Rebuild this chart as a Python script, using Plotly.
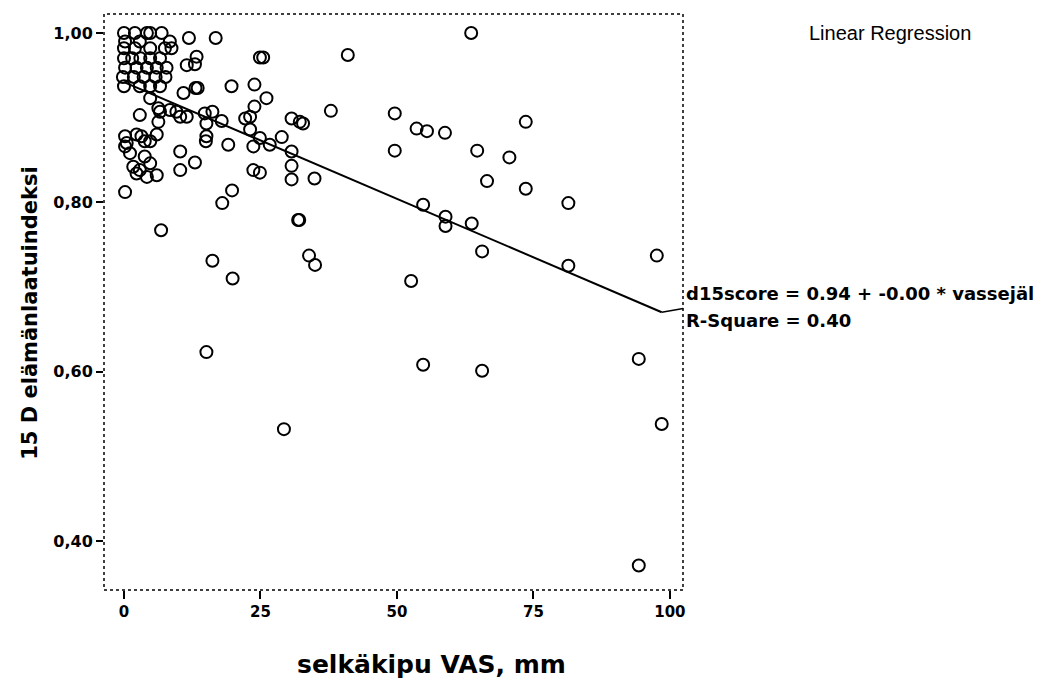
import plotly.graph_objects as go

# --- data (VAS back pain, mm  vs  15D index) ---
vas = [
    # sparse right part
    63.6, 41.0, 49.6, 53.6, 55.5, 58.8, 73.6, 49.6, 64.7, 70.6, 66.5, 73.6, 81.4, 54.8,
    58.9, 58.9, 63.7, 65.6, 81.4, 97.6, 52.6, 54.8, 65.6, 94.3, 98.5, 94.3,
    # middle
    18.0, 32.1, 6.8, 16.2, 33.9, 35.0, 19.9, 15.1, 29.3, 19.8,
    16.8, 24.9, 25.5, 19.7, 23.9, 26.1, 23.9, 37.9, 16.2, 17.9, 22.2, 23.1, 30.7, 32.2,
    32.8, 23.1, 19.1, 23.7, 24.9, 26.7, 28.9, 30.7, 30.7, 30.7, 34.9, 23.7, 24.9, 31.9,
    # left lower cluster
    0.2, 2.9, 6.3, 6.6, 10.3, 11.5, 9.6, 14.8, 15.1, 15.1, 15.0, 0.2, 0.5, 0.2, 1.1,
    2.3, 3.2, 3.8, 4.8, 6.0, 10.3, 10.3, 13.0, 1.7, 2.9, 2.3, 3.8, 4.8, 4.2, 6.0,
    # left upper cluster
    0.0, 2.0, 4.2, 4.8, 6.9, 11.9, 0.2, 2.9, 8.4, 0.0, 2.0, 4.8, 7.5, 8.7,
    13.3, 11.5, 13.0, 0.0, 1.5, 3.0, 4.8, 6.6, 0.2, 2.3, 4.2, 6.0, 7.8,
    -0.2, 1.8, 3.6, 5.8, 7.6, 0.0, 2.9, 4.8, 6.6, 13.1, 13.5, 10.9, 4.8, 6.3, 8.4,
]
score = [
    1.000, 0.974, 0.905, 0.887, 0.884, 0.882, 0.895, 0.861, 0.861, 0.853, 0.825, 0.816, 0.799, 0.797,
    0.783, 0.772, 0.775, 0.742, 0.725, 0.737, 0.707, 0.608, 0.601, 0.615, 0.538, 0.371,
    0.799, 0.779, 0.767, 0.731, 0.737, 0.726, 0.710, 0.623, 0.532, 0.814,
    0.994, 0.971, 0.971, 0.937, 0.939, 0.923, 0.913, 0.908, 0.907, 0.896, 0.899, 0.901, 0.899, 0.895,
    0.893, 0.886, 0.868, 0.866, 0.876, 0.868, 0.877, 0.860, 0.843, 0.827, 0.828, 0.838, 0.835, 0.779,
    0.812, 0.903, 0.895, 0.907, 0.901, 0.901, 0.907, 0.905, 0.893, 0.878, 0.872, 0.878, 0.870, 0.866, 0.858,
    0.880, 0.878, 0.872, 0.872, 0.880, 0.860, 0.838, 0.847, 0.842, 0.838, 0.834, 0.854, 0.846, 0.830, 0.832,
    1.000, 1.000, 1.000, 1.000, 1.000, 0.994, 0.990, 0.990, 0.990, 0.982, 0.982, 0.982, 0.982, 0.982,
    0.972, 0.962, 0.963, 0.970, 0.970, 0.970, 0.970, 0.970, 0.959, 0.959, 0.959, 0.959, 0.959,
    0.948, 0.948, 0.948, 0.948, 0.948, 0.937, 0.937, 0.937, 0.937, 0.935, 0.935, 0.929, 0.923, 0.911, 0.909,
]

intercept = 0.942
slope = -0.00276

x_ticks = [0, 25, 50, 75, 100]
x_ticktext = ["0", "25", "50", "75", "100"]
y_ticks = [0.40, 0.60, 0.80, 1.00]
y_ticktext = ["0,40", "0,60", "0,80", "1,00"]

x_title = "selkäkipu VAS, mm"
y_title = "15 D elämänlaatuindeksi"
eq_line1 = "d15score = 0.94 + -0.00 * vassejäl"
eq_line2 = "R-Square = 0.40"
legend_text = "Linear Regression"

# regression line over the observed x range
x_line = [0, max(vas)]
y_line = [intercept + slope * v for v in x_line]

BOLD = "DejaVu Sans"

fig = go.Figure()
fig.add_trace(go.Scatter(
    x=vas, y=score, mode="markers",
    marker=dict(symbol="circle-open", size=12, color="black", line=dict(width=2, color="black")),
    showlegend=False, cliponaxis=False,
))
fig.add_trace(go.Scatter(
    x=x_line, y=y_line, mode="lines",
    line=dict(color="black", width=2),
    showlegend=False,
))

fig.update_layout(
    width=1047, height=680,
    margin=dict(l=104, r=364, t=14, b=90),
    paper_bgcolor="white", plot_bgcolor="white",
    font=dict(family=BOLD, color="black"),
    xaxis=dict(
        range=[-3.66, 102.4], showgrid=False, zeroline=False, showline=False,
        tickmode="array", tickvals=x_ticks, ticktext=x_ticktext,
        ticks="outside", ticklen=8, tickwidth=2, tickcolor="black",
        tickfont=dict(family=BOLD, size=15, color="black", weight="bold"),
    ),
    yaxis=dict(
        range=[0.342, 1.0224], showgrid=False, zeroline=False, showline=False,
        tickmode="array", tickvals=y_ticks, ticktext=y_ticktext,
        ticks="outside", ticklen=7, tickwidth=2, tickcolor="black",
        tickfont=dict(family=BOLD, size=16, color="black", weight="bold"),
    ),
    shapes=[dict(
        type="rect", xref="paper", yref="paper", x0=0, x1=1, y0=0, y1=1,
        line=dict(color="black", width=1.5, dash="dot"),
    )],
)

eq_font = dict(family=BOLD, size=18, color="black", weight="bold")
annotations = [
    # x title
    dict(text=x_title, xref="paper", yref="paper", x=0.565, y=-0.13,
         showarrow=False, xanchor="center", yanchor="middle",
         font=dict(family=BOLD, size=25, color="black", weight="bold")),
    # y title
    dict(text=y_title, xref="paper", yref="paper", x=-0.128, y=0.481, textangle=-90,
         showarrow=False, xanchor="center", yanchor="middle",
         font=dict(family=BOLD, size=21, color="black", weight="bold")),
    # legend-like header
    dict(text=legend_text, xref="paper", yref="paper", x=1.0, xshift=207, y=1.0, yshift=-19,
         showarrow=False, xanchor="center", yanchor="middle",
         font=dict(family="Liberation Sans", size=20, color="black")),
    # connector from regression line end to label
    dict(text="", x=x_line[1], y=y_line[1], xref="x", yref="y",
         showarrow=True, arrowhead=0, arrowwidth=1.5, arrowcolor="black",
         ax=23, ay=-4, standoff=0, startstandoff=0),
    # regression equation label (two lines)
    dict(text=eq_line1, xref="paper", x=1.0, xshift=1, xanchor="left",
         yref="y", y=y_line[1], yshift=19, yanchor="middle", align="left",
         showarrow=False, font=eq_font),
    dict(text=eq_line2, xref="paper", x=1.0, xshift=1, xanchor="left",
         yref="y", y=y_line[1], yshift=-8, yanchor="middle", align="left",
         showarrow=False, font=eq_font),
]
fig.update_layout(annotations=annotations)

fig.write_html("out.html", config={"displayModeBar": False},
               post_script="document.body.style.margin='0px';")
